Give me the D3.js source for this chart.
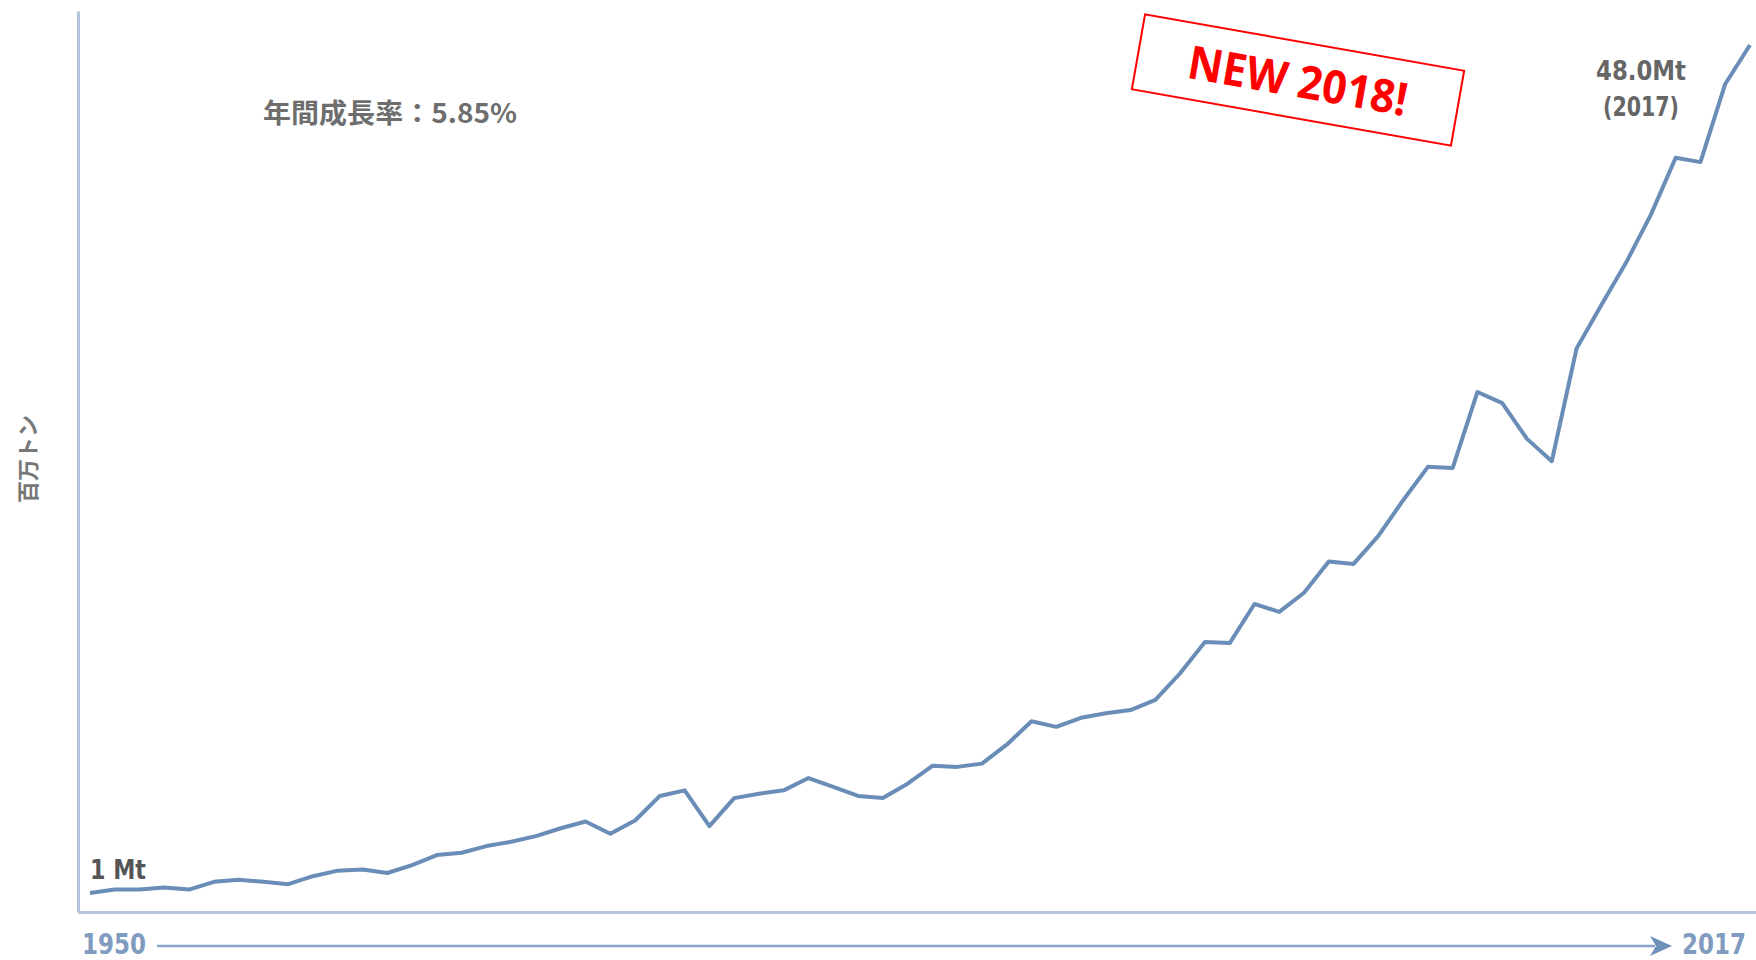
<!DOCTYPE html>
<html>
<head>
<meta charset="utf-8">
<script src="https://cdn.jsdelivr.net/npm/d3@7"></script>
<style>
  body { margin: 0; background: #fff; }
  svg { display: block; }
</style>
</head>
<body>
<svg id="chart" width="1756" height="960"></svg>
<script>
// aluminium production, Mt (1950 = 1, 2017 = 48)
const years = d3.range(1950, 2018);
const production = [
  1.00, 1.19, 1.19, 1.31, 1.19, 1.62, 1.74, 1.62, 1.49, 1.93,
  2.24, 2.30, 2.11, 2.55, 3.10, 3.23, 3.60, 3.84, 4.15, 4.59,
  4.96, 4.28, 5.02, 6.38, 6.69, 4.71, 6.26, 6.50, 6.69, 7.37,
  6.88, 6.38, 6.26, 7.06, 8.05, 7.99, 8.17, 9.22, 10.52, 10.21,
  10.71, 10.96, 11.14, 11.70, 13.18, 14.91, 14.85, 17.02, 16.58, 17.64,
  19.37, 19.24, 20.79, 22.77, 24.62, 24.56, 28.77, 28.15, 26.17, 24.93,
  31.18, 33.59, 35.94, 38.60, 41.75, 41.51, 45.84, 48.00
];
const startLabel = "1950";
const endLabel = "2017";
const growthLabel = "年間成長率：5.85%";
const yLabel = "百万トン";
const firstLabel = "1 Mt";
const lastLabel = ["48.0Mt", "(2017)"];
const stamp = "NEW 2018!";

const svg = d3.select("#chart");
const lineColor = "#6a8db8";
const axisColor = "#b5c3dc";
const condensed = "'DejaVu Sans Condensed', 'Liberation Sans Narrow', sans-serif";

let x = d3.scaleLinear().domain([1950, 2017]).range([90, 1750]);
let y = d3.scaleLinear().domain([1, 48]).range([893, 45]);

// frame axes, no ticks
let frameX = d3.scaleLinear().domain([0, 1]).range([78, 1756]);
let frameY = d3.scaleLinear().domain([0, 1]).range([912, 11]);

svg.append("g")
  .attr("transform", "translate(0,912)")
  .call(d3.axisBottom(frameX).tickValues([]).tickSizeOuter(0))
  .call(g => g.select(".domain").attr("stroke", axisColor).attr("stroke-width", 3));

svg.append("g")
  .attr("transform", "translate(78,0)")
  .call(d3.axisLeft(frameY).tickValues([]).tickSizeOuter(0))
  .call(g => g.select(".domain").attr("stroke", axisColor).attr("stroke-width", 3));

// time arrow under the axis
svg.append("line")
  .attr("x1", 157).attr("x2", 1655).attr("y1", 946).attr("y2", 946)
  .attr("stroke", "#8aa3c6").attr("stroke-width", 2.5);
svg.append("path")
  .attr("d", "M1650,936 L1672,946 L1650,956 L1656,946 Z")
  .attr("fill", "#6f90bb");

svg.append("text")
  .attr("x", 82).attr("y", 954)
  .attr("font-family", condensed).attr("font-weight", "bold")
  .attr("font-size", 28).attr("fill", "#7f9bc0")
  .attr("textLength", 64).attr("lengthAdjust", "spacingAndGlyphs")
  .text(startLabel);
svg.append("text")
  .attr("x", 1682).attr("y", 954)
  .attr("font-family", condensed).attr("font-weight", "bold")
  .attr("font-size", 28).attr("fill", "#7f9bc0")
  .attr("textLength", 64).attr("lengthAdjust", "spacingAndGlyphs")
  .text(endLabel);

// y label
svg.append("text")
  .attr("transform", "translate(36,459) rotate(-90)")
  .attr("text-anchor", "middle")
  .attr("font-family", "'Noto Sans CJK JP', sans-serif")
  .attr("font-weight", "bold")
  .attr("font-size", 22).attr("fill", "#777")
  .text(yLabel);

// growth note
svg.append("text")
  .attr("x", 263).attr("y", 123)
  .attr("font-family", "'Noto Sans CJK JP', sans-serif")
  .attr("font-weight", "bold")
  .attr("font-size", 27).attr("fill", "#6e6e6e")
  .attr("textLength", 254).attr("lengthAdjust", "spacingAndGlyphs")
  .text(growthLabel);

// the line
let line = d3.line()
  .x((d, i) => x(years[i]))
  .y(d => y(d));

svg.append("path")
  .datum(production)
  .attr("d", line)
  .attr("fill", "none")
  .attr("stroke", lineColor)
  .attr("stroke-width", 4)
  .attr("stroke-linejoin", "round");

// end labels
svg.append("text")
  .attr("x", x(1950)).attr("y", y(production[0]) - 14)
  .attr("font-family", condensed).attr("font-weight", "bold")
  .attr("font-size", 27).attr("fill", "#555")
  .attr("textLength", 56).attr("lengthAdjust", "spacingAndGlyphs")
  .text(firstLabel);

let last = svg.append("text")
  .attr("font-family", condensed).attr("font-weight", "bold")
  .attr("font-size", 27).attr("fill", "#666");
last.selectAll("tspan").data(lastLabel).join("tspan")
  .attr("x", (d, i) => i ? 1603 : 1596)
  .attr("y", (d, i) => 80 + i * 36)
  .attr("textLength", (d, i) => i ? 76 : 90)
  .attr("lengthAdjust", "spacingAndGlyphs")
  .text(d => d);

// red stamp
let st = svg.append("g").attr("transform", "translate(1298,80) rotate(10)");
st.append("rect")
  .attr("x", -162).attr("y", -38).attr("width", 324).attr("height", 76)
  .attr("fill", "none").attr("stroke", "#ff0000").attr("stroke-width", 2);
st.append("text")
  .attr("x", 0).attr("y", 17).attr("text-anchor", "middle")
  .attr("font-family", "'Open Sans', 'Lato', sans-serif").attr("font-weight", "bold")
  .attr("font-size", 46).attr("fill", "#ff0000")
  .attr("textLength", 222).attr("lengthAdjust", "spacingAndGlyphs")
  .text(stamp);
</script>
</body>
</html>
